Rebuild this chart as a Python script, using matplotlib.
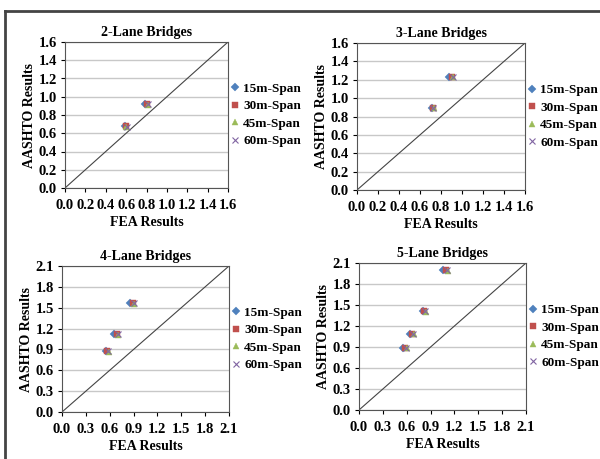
import matplotlib
matplotlib.use("Agg")
from matplotlib import pyplot as plt
from matplotlib.lines import Line2D

plt.rcParams['font.family'] = ['Liberation Serif', 'DejaVu Serif']
plt.rcParams['font.weight'] = 'bold'

series = ["15m-Span", "30m-Span", "45m-Span", "60m-Span"]
colors = ["#4F81BD", "#C0504D", "#9BBB59", "#8064A2"]
markers = ["D", "s", "^", "x"]

titles = ["2-Lane Bridges", "3-Lane Bridges", "4-Lane Bridges", "5-Lane Bridges"]

# FEA (x) and AASHTO (y) per panel, per span
fea_2 = [[0.59, 0.79], [0.60, 0.80], [0.60, 0.81], [0.61, 0.81]]
aashto_2 = [[0.68, 0.92], [0.68, 0.92], [0.67, 0.91], [0.67, 0.92]]
fea_3 = [[0.71, 0.88], [0.72, 0.90], [0.73, 0.91], [0.72, 0.91]]
aashto_3 = [[0.89, 1.23], [0.89, 1.23], [0.89, 1.23], [0.89, 1.23]]
fea_4 = [[0.55, 0.66, 0.86], [0.57, 0.69, 0.89], [0.59, 0.71, 0.91], [0.58, 0.70, 0.90]]
aashto_4 = [[0.88, 1.12, 1.57], [0.88, 1.12, 1.57], [0.87, 1.11, 1.56], [0.88, 1.12, 1.57]]
fea_5 = [[0.55, 0.64, 0.80, 1.06], [0.58, 0.67, 0.82, 1.09], [0.60, 0.69, 0.84, 1.12], [0.59, 0.68, 0.83, 1.11]]
aashto_5 = [[0.89, 1.09, 1.41, 2.00], [0.89, 1.09, 1.41, 2.00], [0.88, 1.08, 1.40, 1.99], [0.89, 1.09, 1.41, 2.00]]

limits = [1.6, 1.6, 2.1, 2.1]
tick_steps = [0.2, 0.2, 0.3, 0.3]

panels = [(fea_2, aashto_2), (fea_3, aashto_3), (fea_4, aashto_4), (fea_5, aashto_5)]

# axes rectangles in pixels: left, top, right, bottom
W, H = 600, 459
rects = [(65, 42, 228, 188), (357, 43, 525, 190), (62, 266, 229, 412), (359, 263, 526, 410)]

fig = plt.figure(figsize=(6, 4.59), dpi=100)

# outer frame
fig.add_artist(Line2D([5 / W, 5 / W], [0, 1 - 11 / H], color="#444444", lw=2, transform=fig.transFigure))
fig.add_artist(Line2D([5 / W, 1], [1 - 11 / H, 1 - 11 / H], color="#444444", lw=2, transform=fig.transFigure))

for i in range(4):
    l, t, r, b = rects[i]
    ax = fig.add_axes([l / W, 1 - b / H, (r - l) / W, (b - t) / H])
    lim = limits[i]
    step = tick_steps[i]
    n = int(round(lim / step))
    ticks = [round(k * step, 1) for k in range(n + 1)]
    ax.set_xlim(0, lim)
    ax.set_ylim(0, lim)
    ax.set_xticks(ticks)
    ax.set_yticks(ticks)
    ax.set_xticklabels(["%.1f" % v for v in ticks])
    ax.set_yticklabels(["%.1f" % v for v in ticks])
    ax.tick_params(labelsize=10.5, length=3, width=0.8, colors="black")
    ax.tick_params(axis="x", pad=5)
    ax.tick_params(axis="y", pad=3)
    ax.grid(axis="y", color="#c8c8c8", lw=1)
    ax.set_axisbelow(True)
    for s in ax.spines.values():
        s.set_color("#555555")
        s.set_linewidth(0.8)
    ax.plot([0, lim], [0, lim], color="#444444", lw=0.8)

    fea, aashto = panels[i]
    handles = []
    for j in range(4):
        ms = 4.5 if markers[j] != "D" else 3.8
        h, = ax.plot(fea[j], aashto[j], linestyle="none", marker=markers[j], color=colors[j],
                     markersize=ms, markeredgewidth=0.8 if markers[j] == "x" else 0.3,
                     label=series[j])
        handles.append(h)

    ax.set_title(titles[i], fontsize=10, fontweight="bold", pad=4)
    ax.set_xlabel("FEA Results", fontsize=10, fontweight="bold", labelpad=3)
    ax.set_ylabel("AASHTO Results", fontsize=10, fontweight="bold", labelpad=2)

    ax.legend(handles=handles, loc="center left", bbox_to_anchor=(0.98, 0.5),
              frameon=False, fontsize=9.5, handlelength=0.6, handletextpad=0.3,
              labelspacing=0.4, borderaxespad=0.1)

fig.savefig("out.png", dpi=100)
